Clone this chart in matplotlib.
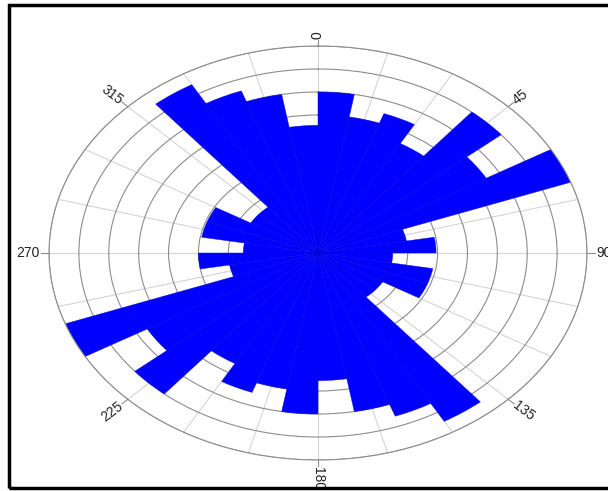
import matplotlib
matplotlib.use("Agg")
import matplotlib.pyplot as plt
from matplotlib.patches import Rectangle
import numpy as np

# rose diagram, 10 degree bins
bin_start = list(range(0, 360, 10))
counts = [7.0, 6.0, 6.45, 5.5, 8.0, 6.5, 9.0, 3.0, 3.95,
          2.5, 3.9, 3.9, 2.5, 2.5, 8.45, 7.55, 7.0, 5.55,
          7.0, 6.0, 6.45, 5.55, 8.0, 6.6, 9.0, 3.0, 4.0,
          2.5, 3.95, 3.95, 2.6, 2.6, 8.45, 7.5, 7.0, 5.55]
label_angles = [0, 45, 90, 135, 180, 225, 270, 315]
label_text = ['0', '45', '90', '135', '180', '225', '270', '315']

W, H = 608, 491
fig = plt.figure(figsize=(W / 100, H / 100), dpi=100)
ax = fig.add_axes([49 / W, (H - 460) / H, 538 / W, 414 / H], projection='polar')
ax.set_aspect('auto')
ax.set_theta_zero_location('N')
ax.set_theta_direction(-1)

ax.bar(np.deg2rad(bin_start), counts, width=np.deg2rad(10), align='edge',
       color='#0000ff', edgecolor='#0000dd', linewidth=0.3, zorder=2)

ax.set_ylim(0, 9)
ax.set_rgrids(range(1, 10), labels=[''] * 9)
ax.set_thetagrids(np.arange(0, 360, 15), labels=[''] * 24)
ax.set_axisbelow(True)
ax.yaxis.grid(True, color='#8c8c8c', linewidth=0.8)
ax.xaxis.grid(True, color='#d4d4d4', linewidth=0.8)
ax.spines['polar'].set_color('#8c8c8c')
ax.spines['polar'].set_linewidth(0.8)
ax.tick_params(length=0)

# ticks and labels outside the ring, turned along the radius
ratio = 414 / 538
for a, t in zip(label_angles, label_text):
    th = np.deg2rad(a)
    ax.plot([th, th], [9, 9.28], color='#8c8c8c', lw=0.8, clip_on=False)
    rot = np.degrees(np.arctan2(ratio * np.cos(th), np.sin(th)))
    ha = 'left'
    if rot > 90.5 or rot < -90.5:
        rot = rot - 180 if rot > 0 else rot + 180
        ha = 'right'
    ax.text(th, 9.3, t, rotation=rot, rotation_mode='anchor', ha=ha, va='center',
            fontsize=10, family='Liberation Sans', color='#222222', clip_on=False)

fig.patches.append(Rectangle((9 / W, 3 / H), 1.0, 483 / H, transform=fig.transFigure,
                             fill=False, edgecolor='black', linewidth=2.5))

fig.savefig('out.png', dpi=100)
plt.close()
